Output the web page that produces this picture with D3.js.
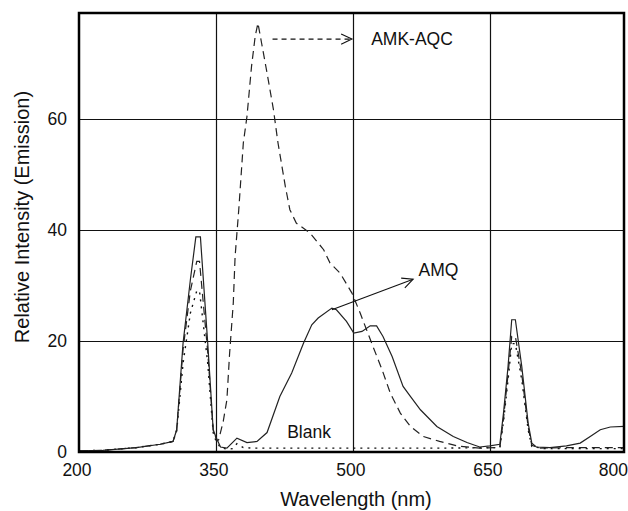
<!DOCTYPE html>
<html>
<head>
<meta charset="utf-8">
<script src="https://cdn.jsdelivr.net/npm/d3@7"></script>
<style>
  body { margin: 0; background: #fff; }
  text { font-family: "Liberation Sans", Arial, Helvetica, sans-serif; fill: #111; }
</style>
</head>
<body>
<div id="chart-area"></div>
<script>
// Emission spectra
var xTicks = [200, 350, 500, 650, 800];
var yTicks = [0, 20, 40, 60];

var amqNm = [200, 226, 263, 289, 303, 307, 314, 322, 328, 333, 341, 347, 350, 355, 362,
    373, 384, 395, 406, 420, 433, 446, 455, 462, 477, 482, 493, 501, 510, 519,
    526, 533, 543, 555, 563, 574, 592, 610, 625, 639, 650, 661, 665, 670, 674,
    678, 685, 692, 696, 701, 716, 734, 749, 760, 771, 782, 797];
var amqVal = [0.2, 0.3, 0.8, 1.4, 1.9, 4.0, 19.6, 31, 38.7, 38.7, 19.6, 4.0, 2.7, 0.9, 0.7,
    2.5, 1.7, 1.9, 3.5, 10.0, 14.2, 19.6, 22.9, 24.1, 25.9, 25.6, 23.5, 21.4, 21.7, 22.7,
    22.7, 20.8, 17.2, 11.8, 10.0, 7.6, 4.6, 2.8, 1.7, 0.9, 1.1, 1.4, 7.0, 15.4, 23.8,
    23.8, 15.4, 5.2, 1.6, 0.9, 0.8, 1.1, 1.6, 2.8, 4.0, 4.5, 4.6];

var aqcNm = [200, 226, 263, 289, 303, 307, 314, 322, 329, 332, 341, 347, 351, 353, 358,
    362, 365, 369, 371, 375, 380, 384, 389, 393, 396, 400, 406, 413, 418, 426,
    431, 438, 453, 468, 475, 486, 499, 508, 515, 522, 532, 541, 552, 563, 577,
    595, 614, 639, 661, 665, 670, 674, 678, 685, 692, 696, 705, 740, 797];
var aqcVal = [0.2, 0.3, 0.8, 1.4, 1.9, 4.0, 18.5, 29, 34.3, 34.3, 18, 4, 2.0, 2.2, 5.5,
    9.4, 17.8, 26.8, 35.2, 43.6, 55.6, 60.4, 69.4, 74.8, 77.2, 73.6, 68.2, 61.6, 55.6, 47.8,
    43.6, 41.2, 39.4, 36.4, 34.0, 32.2, 28.6, 25.0, 22.0, 19.0, 14.8, 10.6, 7.0, 4.6, 2.8,
    1.9, 1.1, 0.7, 0.8, 6, 14, 20.8, 20.8, 14, 4.5, 1.2, 0.7, 0.8, 0.8];

var blankNm = [200, 226, 263, 289, 303, 307, 314, 322, 329, 332, 341, 347, 350, 355, 362,
    368, 373, 380, 390, 500, 600, 661, 665, 670, 674, 678, 685, 692, 696, 710, 797];
var blankVal = [0.2, 0.3, 0.8, 1.4, 1.9, 3.8, 16, 25, 29, 29, 16, 3.5, 2, 0.8, 0.5,
    0.6, 1.5, 0.8, 0.7, 0.7, 0.7, 0.8, 5.5, 13, 19.5, 19.5, 13, 4, 1, 0.6, 0.6];

var W = 628, H = 511;
var plot = { left: 79, right: 624, top: 13, bottom: 452 };

var svg = d3.select("#chart-area")
    .append("svg")
        .attr("width", W)
        .attr("height", H);

var x = d3.scaleLinear()
    .domain([200, 797])
    .range([plot.left, plot.right]);

var y = d3.scaleLinear()
    .domain([0, 79])
    .range([plot.bottom, plot.top]);

// grid lines
svg.append("g")
    .selectAll("line")
    .data(xTicks.slice(1, 4)).enter()
    .append("line")
        .attr("x1", function(d) { return Math.round(x(d)) + 0.5; })
        .attr("x2", function(d) { return Math.round(x(d)) + 0.5; })
        .attr("y1", plot.top)
        .attr("y2", plot.bottom)
        .attr("stroke", "#111")
        .attr("stroke-width", 1.2);

svg.append("g")
    .selectAll("line")
    .data(yTicks.slice(1)).enter()
    .append("line")
        .attr("x1", plot.left)
        .attr("x2", plot.right)
        .attr("y1", function(d) { return Math.round(y(d)) + 0.5; })
        .attr("y2", function(d) { return Math.round(y(d)) + 0.5; })
        .attr("stroke", "#111")
        .attr("stroke-width", 1.2);

// curves
var line = d3.line()
    .x(function(d) { return x(d[0]); })
    .y(function(d) { return y(d[1]); });

svg.append("path")
    .datum(d3.zip(blankNm, blankVal))
    .attr("d", line)
    .attr("fill", "none")
    .attr("stroke", "#111")
    .attr("stroke-width", 1.4)
    .attr("stroke-dasharray", "2,5");

svg.append("path")
    .datum(d3.zip(aqcNm, aqcVal))
    .attr("d", line)
    .attr("fill", "none")
    .attr("stroke", "#222")
    .attr("stroke-width", 1.2)
    .attr("stroke-dasharray", "8,5");

svg.append("path")
    .datum(d3.zip(amqNm, amqVal))
    .attr("d", line)
    .attr("fill", "none")
    .attr("stroke", "#222")
    .attr("stroke-width", 1.2);

// frame
svg.append("rect")
    .attr("x", plot.left)
    .attr("y", plot.top)
    .attr("width", plot.right - plot.left)
    .attr("height", plot.bottom - plot.top)
    .attr("fill", "none")
    .attr("stroke", "#000")
    .attr("stroke-width", 2.5);

// tick labels
svg.append("g")
    .selectAll("text")
    .data(xTicks).enter()
    .append("text")
        .attr("x", function(d, i) { return i === xTicks.length - 1 ? W : x(d) - 2; })
        .attr("y", 476)
        .attr("font-size", "17.5px")
        .attr("text-anchor", function(d, i) { return i === xTicks.length - 1 ? "end" : "middle"; })
        .text(function(d) { return d; });

svg.append("g")
    .selectAll("text")
    .data(yTicks).enter()
    .append("text")
        .attr("x", 67)
        .attr("y", function(d) { return y(d) + 6; })
        .attr("font-size", "17.5px")
        .attr("text-anchor", "end")
        .text(function(d) { return d; });

// axis titles
svg.append("text")
    .attr("x", 356)
    .attr("y", 506)
    .attr("font-size", "20px")
    .attr("text-anchor", "middle")
    .text("Wavelength (nm)");

svg.append("text")
    .attr("transform", "translate(29,217) rotate(-90)")
    .attr("font-size", "20px")
    .attr("text-anchor", "middle")
    .text("Relative Intensity (Emission)");

// annotations
function arrow(x1, y1, x2, y2, dash) {
    var g = svg.append("g")
        .attr("stroke", "#111")
        .attr("stroke-width", 1.1)
        .attr("fill", "none");
    g.append("line")
        .attr("x1", x1).attr("y1", y1)
        .attr("x2", x2).attr("y2", y2)
        .attr("stroke-dasharray", dash || null);
    var a = Math.atan2(y2 - y1, x2 - x1), len = 12, sp = 0.45;
    g.append("path")
        .attr("d", "M" + (x2 - len * Math.cos(a - sp)) + "," + (y2 - len * Math.sin(a - sp)) +
            "L" + x2 + "," + y2 +
            "L" + (x2 - len * Math.cos(a + sp)) + "," + (y2 - len * Math.sin(a + sp)));
}

arrow(x(412), y(74.3), x(499), y(74.3), "5,4");
arrow(x(477), y(25.6), x(566), y(31.1));

svg.append("text")
    .attr("x", x(520))
    .attr("y", y(73.2))
    .attr("font-size", "17.5px")
    .text("AMK-AQC");

svg.append("text")
    .attr("x", x(572))
    .attr("y", y(31.6))
    .attr("font-size", "17.5px")
    .text("AMQ");

svg.append("text")
    .attr("x", x(428))
    .attr("y", y(2.5))
    .attr("font-size", "17.5px")
    .text("Blank");
</script>
</body>
</html>
